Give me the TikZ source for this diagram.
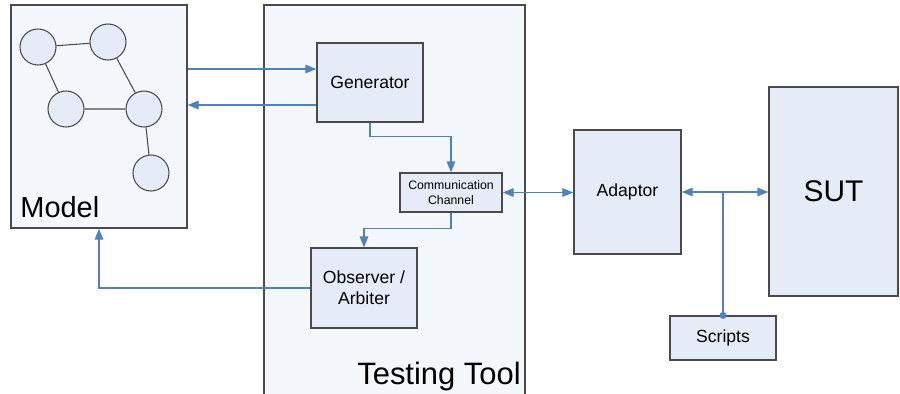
\documentclass[tikz,border=0pt]{standalone}
\usepackage{fontspec}
\setmainfont{Liberation Sans}
\usetikzlibrary{arrows.meta}
\definecolor{boxfill}{HTML}{E6ECF7}
\definecolor{toolfill}{HTML}{F4F7FC}
\definecolor{edge}{HTML}{4A4A4A}
\definecolor{flowblue}{HTML}{4F81BD}
\tikzset{
  container/.style={draw=edge,fill=toolfill,line width=.7pt,inner sep=0pt},
  block/.style={draw=edge,fill=boxfill,line width=.7pt,align=center,font=\fontsize{10}{12}\selectfont},
  state/.style={circle,draw=edge,fill=boxfill,line width=.6pt,minimum size=.72cm,inner sep=0pt},
  flow/.style={draw=flowblue,line width=.7pt,>={Triangle[length=2.2mm,width=1.7mm]}},
  biglabel/.style={font=\fontsize{16.5}{19}\selectfont,inner sep=0pt}
}
\begin{document}
\begin{tikzpicture}
\clip(0,0)rectangle(18,-7.88);
\fill[white](0,0)rectangle(18,-7.88);
% containers
\node[container,minimum width=3.52cm,minimum height=4.46cm](Model)at(1.98,-2.33){};
\node[container,minimum width=5.22cm,minimum height=8.3cm](Tool)at(7.89,-4.25){};
\node[biglabel,anchor=west](ModelLabel)at(0.4,-4.14){Model};
\node[biglabel,anchor=east,font=\fontsize{17.6}{20}\selectfont](ToolLabel)at(10.42,-7.54){Testing Tool};
% graph inside the model
\node[state](s1)at(0.76,-0.94){};
\node[state](s2)at(2.16,-0.84){};
\node[state](s3)at(1.32,-2.18){};
\node[state](s4)at(2.88,-2.18){};
\node[state](s5)at(3.02,-3.46){};
\draw[edge,line width=.6pt](s1)--(s2)(s1)--(s3)(s2)--(s4)(s3)--(s4)(s4)--(s5);
% blocks
\node[block,minimum width=2.12cm,minimum height=1.58cm](Generator)at(7.4,-1.65){Generator};
\node[block,minimum width=2.04cm,minimum height=.78cm,font=\fontsize{7}{8.5}\selectfont,inner sep=1pt](Comm)at(9.02,-3.85){Communication\\Channel};
\node[block,minimum width=2.12cm,minimum height=1.6cm](Observer)at(7.28,-5.76){Observer /\\Arbiter};
\node[block,minimum width=2.14cm,minimum height=2.48cm](Adaptor)at(12.55,-3.84){Adaptor};
\node[block,minimum width=2.58cm,minimum height=4.18cm,font=\fontsize{17}{19}\selectfont](SUT)at(16.67,-3.83){SUT};
\node[block,minimum width=2.12cm,minimum height=.88cm](Scripts)at(14.46,-6.76){Scripts};
% connectors
\draw[flow,->]([yshift=.27cm]Generator.west-|Model.east)--([yshift=.27cm]Generator.west);
\draw[flow,->]([yshift=-.45cm]Generator.west)--([yshift=-.45cm]Generator.west-|Model.east);
\draw[flow,->](Generator.south)--++(0,-.28)-|(Comm.north);
\draw[flow,<->](Comm.east)--(Comm.east-|Adaptor.west);
\draw[flow,->](Comm.south)--++(0,-.32)-|(Observer.north);
\draw[flow,->](Observer.west)-|(Model.south);
\draw[flow,<->](Adaptor.east)--(Adaptor.east-|SUT.west);
\draw[flow](Scripts.north)--(Scripts.north|-Adaptor.east);
\fill[flowblue](Scripts.north)circle(.07);
\end{tikzpicture}
\end{document}
